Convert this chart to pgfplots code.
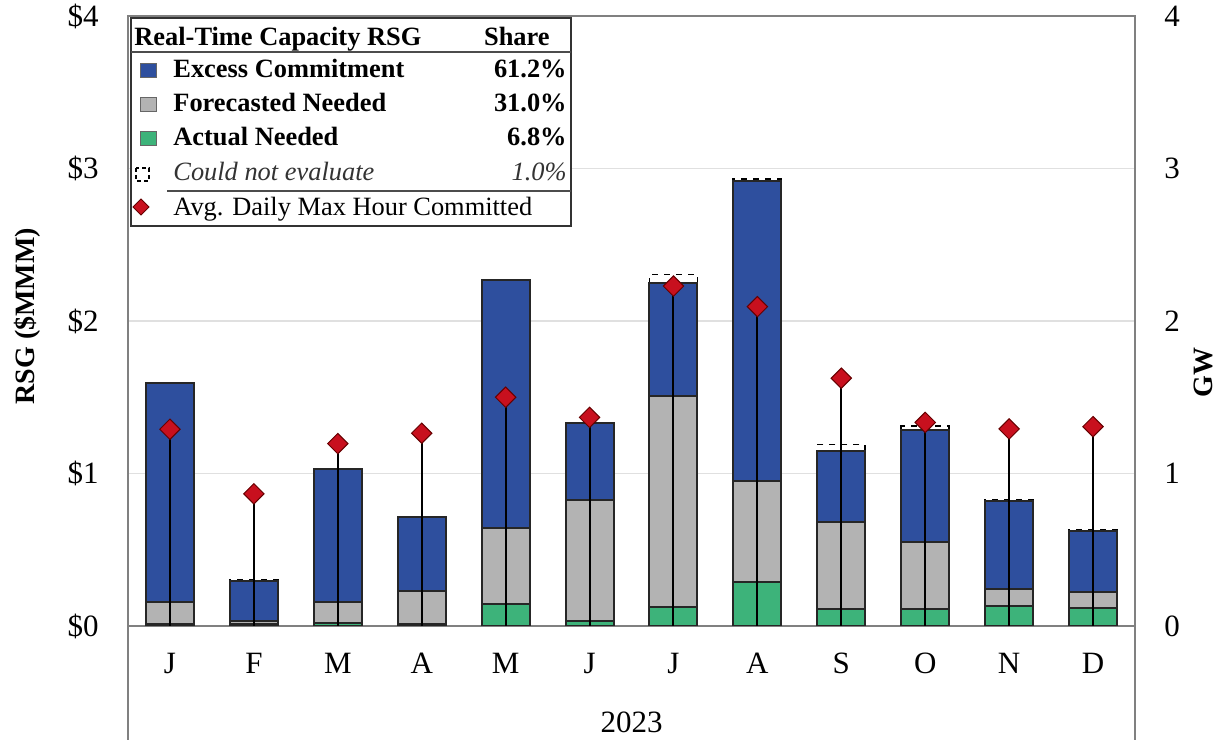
\documentclass[border=0pt]{standalone}
\usepackage{pgfplots}
\usepackage{pgfplotstable}
\pgfplotsset{compat=1.18}
\usepackage{fontspec}
\setmainfont{Liberation Serif}
\definecolor{exblue}{HTML}{2E4F9E}
\definecolor{fcgray}{HTML}{B3B3B3}
\definecolor{acgreen}{HTML}{3DB37A}
\definecolor{dred}{HTML}{C8101E}
\definecolor{framec}{HTML}{808080}
\newcommand\tickfont{\fontsize{15.5}{18}\selectfont}
\newcommand\lgfont{\fontsize{13.2}{16}\selectfont}
\newcommand\labfont{\fontsize{14}{16}\selectfont\bfseries}

\pgfplotstableread{
x green gray blue dash gw
0 0.010 0.145 1.438 0.000 1.290
1 0.010 0.020 0.265 0.005 0.867
2 0.020 0.135 0.873 0.000 1.196
3 0.015 0.216 0.483 0.000 1.264
4 0.142 0.501 1.627 0.000 1.500
5 0.030 0.798 0.503 0.000 1.368
6 0.126 1.379 0.745 0.055 2.229
7 0.286 0.664 1.970 0.010 2.094
8 0.109 0.573 0.468 0.040 1.625
9 0.109 0.442 0.735 0.023 1.335
10 0.133 0.107 0.580 0.005 1.292
11 0.115 0.105 0.405 0.005 1.307
}\rsg

\begin{document}
\begin{tikzpicture}
\useasboundingbox (0,0) rectangle (610.5pt,371pt);
\begin{axis}[
  at={(64pt,58pt)}, anchor=south west, scale only axis,
  width=503.5pt, height=305pt,
  xmin=-0.5, xmax=11.5, ymin=0, ymax=4,
  ybar stacked, bar width=24pt,
  xtick={0,...,11}, xticklabels={J,F,M,A,M,J,J,A,S,O,N,D},
  ytick={0,1,2,3,4}, yticklabels={\$0,\$1,\$2,\$3,\$4},
  major tick length=0pt,
  ymajorgrids, grid style={draw=black!12, line width=0.6pt},
  axis line style={draw=framec, line width=0.9pt},
  xticklabel style={font=\tickfont, inner sep=0pt, yshift=-13.5pt},
  yticklabel style={font=\tickfont, inner sep=0pt, xshift=-14.5pt},
  ylabel={RSG (\$MMM)},
  ylabel style={font=\labfont, at={(axis description cs:-0.1003,0.508)}, anchor=center},
  xlabel={2023},
  xlabel style={font=\tickfont, at={(axis description cs:0.5,-0.1574)}, anchor=center},
]
\addplot[fill=acgreen, draw=black!85, line width=1pt] table[x=x,y=green]{\rsg};
\addplot[fill=fcgray, draw=black!85, line width=1pt] table[x=x,y=gray]{\rsg};
\addplot[fill=exblue, draw=black!85, line width=1pt] table[x=x,y=blue]{\rsg};
\addplot[fill=white, draw=black, dashed, line width=0.9pt] table[x=x,y=dash]{\rsg};
\end{axis}
\begin{axis}[
  at={(64pt,58pt)}, anchor=south west, scale only axis,
  width=503.5pt, height=305pt,
  xmin=-0.5, xmax=11.5, ymin=0, ymax=4,
  axis x line=none, axis y line*=right,
  ytick={0,1,2,3,4}, yticklabels={0,1,2,3,4},
  major tick length=0pt,
  axis line style={draw=framec, line width=0.9pt},
  yticklabel style={font=\tickfont, inner sep=0pt, xshift=14.5pt},
  ylabel={GW},
  ylabel style={font=\labfont, at={(axis description cs:1.0675,0.415)}, anchor=center},
]
\addplot[ycomb, black, line width=1pt, mark=square*, mark size=3.6pt,
  mark options={rotate=45, fill=dred, draw=black!60!red, line width=0.5pt}]
  table[x=x,y=gw]{\rsg};
\end{axis}
\draw[framec, line width=0.9pt] (64pt,58pt) -- (64pt,1pt);
\draw[framec, line width=0.9pt] (567.5pt,58pt) -- (567.5pt,1pt);
\begin{scope}[shift={(0,371pt)}, x=0.5pt, y=-0.5pt]
  \fill[white] (131,18) rectangle (571,226);
  \draw[line width=0.9pt, black!80] (131,18) rectangle (571,226);
  \draw[line width=0.6pt, black!70] (131,52) -- (571,52);
  \draw[line width=0.6pt, black!70] (167,191) -- (571,191);
  \node[anchor=base west, inner sep=0, font=\lgfont\bfseries] at (134,46) {Real-Time Capacity RSG};
  \node[anchor=base east, inner sep=0, font=\lgfont\bfseries] at (550,46) {Share};
  \draw[black!60, fill=exblue] (140,63) rectangle (156,77);
  \node[anchor=base west, inner sep=0, font=\lgfont\bfseries] at (173,78) {Excess Commitment};
  \node[anchor=base east, inner sep=0, font=\lgfont\bfseries] at (567,78) {61.2\%};
  \draw[black!60, fill=fcgray] (140,97) rectangle (156,111);
  \node[anchor=base west, inner sep=0, font=\lgfont\bfseries] at (173,112) {Forecasted Needed};
  \node[anchor=base east, inner sep=0, font=\lgfont\bfseries] at (567,112) {31.0\%};
  \draw[black!60, fill=acgreen] (140,131) rectangle (156,145);
  \node[anchor=base west, inner sep=0, font=\lgfont\bfseries] at (173,146) {Actual Needed};
  \node[anchor=base east, inner sep=0, font=\lgfont\bfseries] at (567,146) {6.8\%};
  \draw[black, dashed, line width=0.6pt, dash pattern=on 2pt off 1.5pt] (136,168) rectangle (149,181);
  \node[anchor=base west, inner sep=0, font=\lgfont\itshape, text=black!80] at (173,181) {Could not evaluate};
  \node[anchor=base east, inner sep=0, font=\lgfont\itshape, text=black!80] at (567,181) {1.0\%};
  \draw[black!60!red, fill=dred, line width=0.5pt] (141,199) -- (149,207) -- (141,215) -- (133,207) -- cycle;
  \node[anchor=base west, inner sep=0, font=\lgfont] at (173,216) {Avg. Daily Max Hour Committed};
\end{scope}
\end{tikzpicture}
\end{document}
